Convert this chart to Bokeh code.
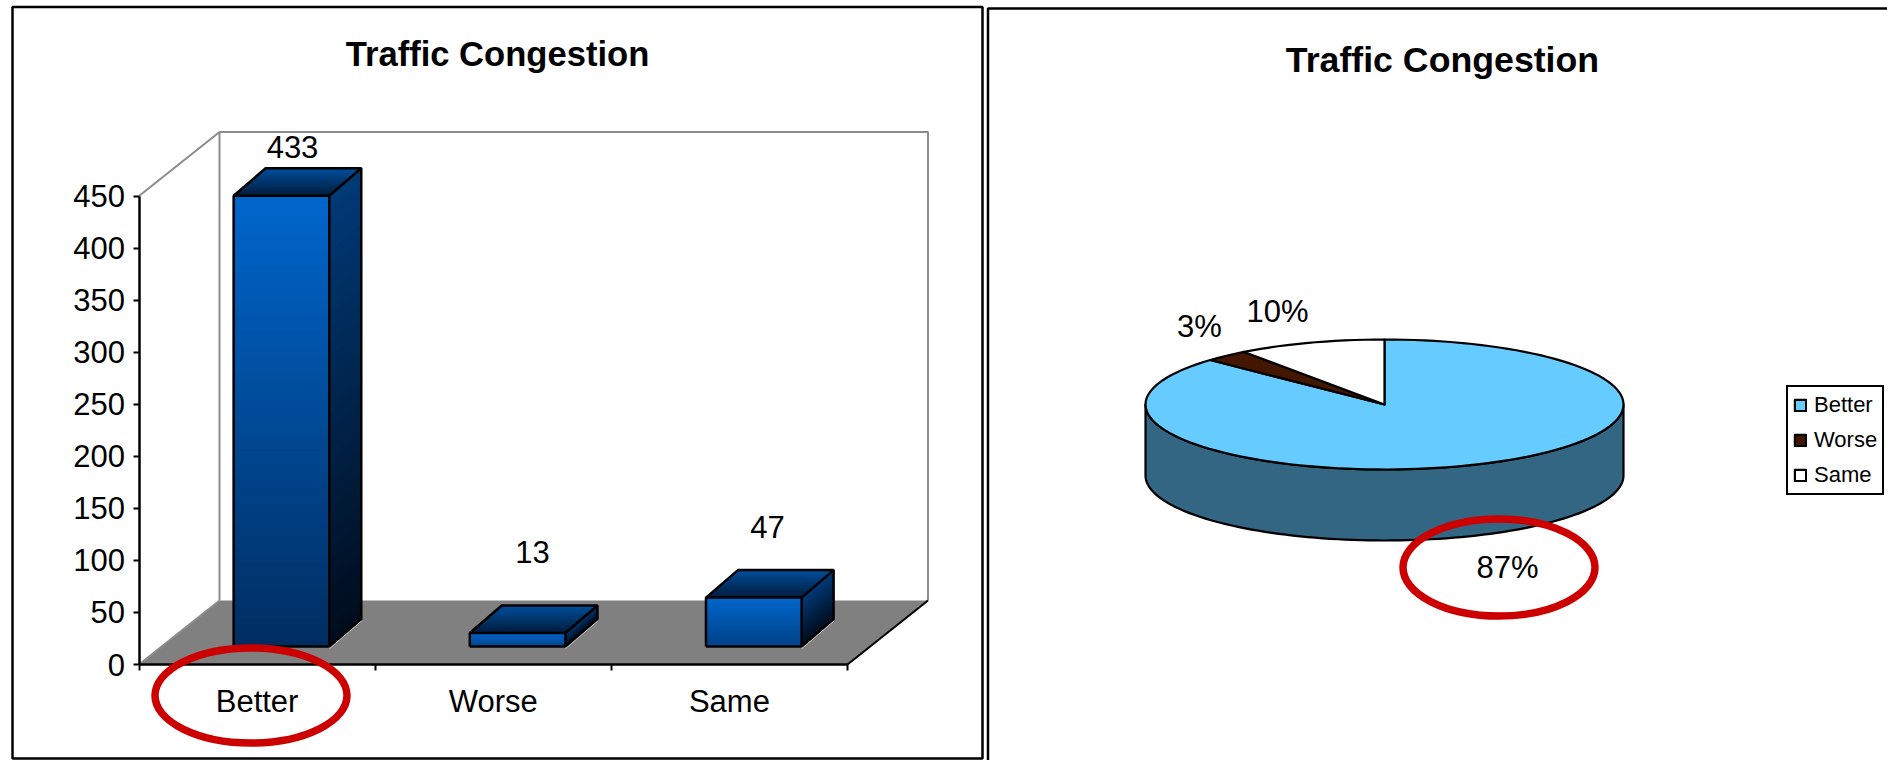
from bokeh.core.properties import value
from bokeh.embed import file_html
from bokeh.layouts import row
from bokeh.models import FixedTicker, Legend, LegendItem, LinearAxis, Range1d
from bokeh.plotting import figure
from bokeh.resources import INLINE
import math

categories = ["Better", "Worse", "Same"]
responses = [433, 13, 47]
y_ticks = [0, 50, 100, 150, 200, 250, 300, 350, 400, 450]
shares = [87, 3, 10]
share_labels = ["87%", "3%", "10%"]
title_text = "Traffic Congestion"
slice_colors = ["#66CCFF", "#431600", "#FFFFFF"]
FONT = value("Liberation Sans")
RED = "#CC0000"

# ---- column chart -------------------------------------------------------
W1, H = 985, 760
X0, Y0 = 138.5, 664.0          # pixel position of the axes origin
UX, UY = 236.17, 1.041         # pixels per category, pixels per unit


def xd(px):
    return (px - X0) / UX


def yd(py):
    return (Y0 - py) / UY


left = figure(width=W1, height=H, output_backend="svg", toolbar_location=None,
              x_range=Range1d(xd(0), xd(W1)), y_range=Range1d(yd(H), yd(0)),
              x_axis_type=None, y_axis_type=None, min_border=0,
              outline_line_color=None)
left.grid.visible = False


def seg(p, xs, ys, color, width, **kw):
    p.line(xs, ys, line_color=color, line_width=width, **kw)


# panel frame
left.quad(left=[xd(12)], right=[xd(982)], top=[yd(6.5)], bottom=[yd(758)],
          fill_color="#FFFFFF", line_color="#000000", line_width=2.5)

# floor and walls of the 3-D box
WALL_DX, WALL_DY = 80.5 / UX, 64 / UY
n_cat = len(categories)
left.patch([0, WALL_DX, n_cat + WALL_DX, n_cat],
           [0, WALL_DY, WALL_DY, 0], fill_color="#808080", line_color=None)
top_val = y_ticks[-1]
GREY = "#8C8C8C"
seg(left, [0, WALL_DX, WALL_DX], [top_val, top_val + WALL_DY, WALL_DY], GREY, 2)
seg(left, [WALL_DX, n_cat + WALL_DX, n_cat + WALL_DX],
    [top_val + WALL_DY, top_val + WALL_DY, WALL_DY], GREY, 2)
seg(left, [0, WALL_DX], [0, WALL_DY], GREY, 2)
seg(left, [n_cat, n_cat + WALL_DX], [0, WALL_DY], "#000000", 2)


def mix(a, b, t):
    ca = [int(a[i:i + 2], 16) for i in (1, 3, 5)]
    cb = [int(b[i:i + 2], 16) for i in (1, 3, 5)]
    return "#%02X%02X%02X" % tuple(round(u + (v - u) * t) for u, v in zip(ca, cb))


def shaded(p, corners_top, corners_bottom, c_top, c_bottom, strips=64):
    """Fill a quadrilateral with a colour ramp; each band runs to the far edge,
    so later bands paint over the joins and no seams show."""
    (xa, ya), (xb, yb) = corners_top
    (xc, yc), (xd_, yd_) = corners_bottom
    xs, ys, cols = [], [], []
    for k in range(strips):
        s = k / strips
        xs.append([xa + (xc - xa) * s, xb + (xd_ - xb) * s, xd_, xc])
        ys.append([ya + (yc - ya) * s, yb + (yd_ - yb) * s, yd_, yc])
        cols.append(mix(c_top, c_bottom, (k + 0.5) / strips))
    p.patches(xs, ys, fill_color=cols, line_color=None)


BASE_DX, BASE_DY = 22.6 / UX, 18 / UY   # bar footprint inset from the front edge
BAR_INSET, BAR_W = 0.305, 0.405
DEPTH_DX, DEPTH_DY = 32 / UX, 27.5 / UY
for i, v in enumerate(responses):
    x1 = i + BAR_INSET + BASE_DX
    x2 = x1 + BAR_W
    y1, y2 = BASE_DY, BASE_DY + v
    # darkness of the front face grows with bar height
    ramp = min(v / 433, 1)
    shaded(left, [(x1, y2), (x2, y2)], [(x1, y1), (x2, y1)], "#0066CC",
           mix("#00448C", "#002D60", ramp))
    shaded(left, [(x2, y2), (x2 + DEPTH_DX, y2 + DEPTH_DY)],
           [(x2, y1), (x2 + DEPTH_DX, y1 + DEPTH_DY)], "#003A78", "#000C1C")
    shaded(left, [(x1 + DEPTH_DX, y2 + DEPTH_DY), (x2 + DEPTH_DX, y2 + DEPTH_DY)],
           [(x1, y2), (x2, y2)], "#004E9C", "#001C3C", strips=24)
    seg(left, [x2, x2 + DEPTH_DX], [y1 - 1.6, y1 + DEPTH_DY - 1.6], "#D8D8D8", 1.5)
    seg(left, [x1, x2, x2, x1, x1], [y1, y1, y2, y2, y1], "#000000", 2.5)
    seg(left, [x1, x1 + DEPTH_DX, x2 + DEPTH_DX, x2 + DEPTH_DX, x2],
        [y2, y2 + DEPTH_DY, y2 + DEPTH_DY, y1 + DEPTH_DY, y1], "#000000", 2.5)
    seg(left, [x2, x2 + DEPTH_DX], [y2, y2 + DEPTH_DY], "#000000", 2.5)

# real axes, pinned inside the frame at the origin of the box
y_axis = LinearAxis(fixed_location=0, bounds=(0, top_val),
                    ticker=FixedTicker(ticks=y_ticks),
                    axis_line_color="#000000", axis_line_width=2.5,
                    major_tick_line_color="#000000", major_tick_line_width=2,
                    major_tick_in=0, major_tick_out=6, minor_tick_line_color=None,
                    major_label_text_font="Liberation Sans",
                    major_label_text_font_size="31px",
                    major_label_text_color="#000000", major_label_standoff=8)
left.add_layout(y_axis, "left")

# category names sit on the major ticks; the marks between them are minor ticks
centres = [i + 0.5 for i in range(n_cat)]
x_axis = LinearAxis(fixed_location=0, bounds=(0, n_cat),
                    ticker=FixedTicker(ticks=centres,
                                       minor_ticks=list(range(n_cat + 1))),
                    major_label_overrides=dict(zip(centres, categories)),
                    axis_line_color="#000000", axis_line_width=2.5,
                    major_tick_line_color=None,
                    minor_tick_line_color="#000000", minor_tick_line_width=2,
                    minor_tick_in=0, minor_tick_out=6,
                    major_label_text_font="Liberation Sans",
                    major_label_text_font_size="31px",
                    major_label_text_color="#000000", major_label_standoff=13)
left.add_layout(x_axis, "below")

# values above the bars
left.text([xd(292), xd(532), xd(767)], [yd(146), yd(551), yd(526)],
          text=[str(v) for v in responses], text_font=FONT,
          text_font_size="31px", text_align="center", text_baseline="middle",
          text_color="#000000")
left.text([xd(497)], [yd(53)], text=[title_text], text_font=FONT,
          text_font_size="34.6px", text_font_style="bold", text_align="center",
          text_baseline="middle", text_color="#000000")

# highlight ring around the leading category
left.ellipse([xd(250.5)], [yd(695)], width=192, height=95, width_units="screen",
             height_units="screen", fill_alpha=0, line_color=RED, line_width=7.5,
             level="overlay")

# ---- pie chart ----------------------------------------------------------
W2 = 1887 - W1
CX, CY = 1384 - W1, 404.0      # pixel centre of the pie top within this panel
RX, RY, THICK = 239.0, 65.0, 71.0


def xu(px):
    return (px - W1 - CX) / RX


def yu(py):
    return (CY - py) / RY


right = figure(width=W2, height=H, output_backend="svg", toolbar_location=None,
               x_range=Range1d(xu(W1), xu(1887)), y_range=Range1d(yu(H), yu(0)),
               x_axis_type=None, y_axis_type=None, min_border=0,
               outline_line_color=None)
right.grid.visible = False

# open panel frame: left and top edges only
seg(right, [xu(987.5), xu(987.5), xu(1887)], [yu(760), yu(8), yu(8)], "#000000", 2.5)

# rim of the disc
depth = THICK / RY
lower = [math.pi / 2 + math.pi * k / 96 for k in range(97)]
rim_x = [math.sin(a) for a in lower] + [math.sin(a) for a in reversed(lower)]
rim_y = [math.cos(a) for a in lower] + [math.cos(a) - depth for a in reversed(lower)]
right.patch(rim_x, rim_y, fill_color="#336682", line_color="#000000", line_width=2.2,
            line_join="round")

# top face, clockwise from twelve o'clock
items = []
start = 0.0
total = sum(shares)
for name, share, col in zip(categories, shares, slice_colors):
    end = start + share / total * 2 * math.pi
    steps = max(3, int((end - start) * 24))
    arc = [start + (end - start) * k / steps for k in range(steps + 1)]
    xs = [0.0] + [math.sin(a) for a in arc]
    ys = [0.0] + [math.cos(a) for a in arc]
    r = right.patch(xs, ys, fill_color=col, line_color="#000000", line_width=2.2,
                    line_join="round")
    items.append(LegendItem(label=name, renderers=[r]))
    start = end

right.text([xu(1507), xu(1199), xu(1277)], [yu(567), yu(326), yu(311)],
           text=share_labels, text_font=FONT, text_font_size="31px",
           text_align="center", text_baseline="middle", text_color="#000000")
right.text([xu(1442)], [yu(59)], text=[title_text], text_font=FONT,
           text_font_size="35.7px", text_font_style="bold", text_align="center",
           text_baseline="middle", text_color="#000000")
right.ellipse([xu(1498.5)], [yu(567)], width=192, height=97, width_units="screen",
              height_units="screen", fill_alpha=0, line_color=RED, line_width=7.5,
              level="overlay")

legend = Legend(items=items, location=(1786 - W1, H - 495), orientation="vertical",
                border_line_color="#000000", border_line_alpha=1, border_line_width=2.5,
                background_fill_color="#FFFFFF", background_fill_alpha=1,
                label_text_font="Liberation Sans", label_text_font_size="22px",
                label_text_color="#000000", glyph_width=14, glyph_height=14,
                label_standoff=7, padding=5, spacing=9, margin=0,
                label_height=24, label_width=56)
right.add_layout(legend, "center")

page = row(left, right, spacing=0)
open("out.html", "w").write(file_html(page, INLINE))
